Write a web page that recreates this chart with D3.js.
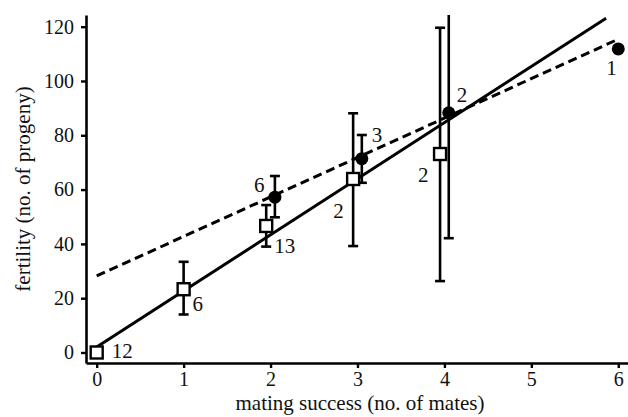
<!DOCTYPE html>
<html>
<head>
<meta charset="utf-8">
<script src="https://cdn.jsdelivr.net/npm/d3@7"></script>
<style>
  body { margin: 0; background: #fff; }
</style>
</head>
<body>
<div id="chart"></div>
<script>
// squares: open markers
var squareX  = [0, 1, 1.95, 2.95, 3.95];
var squareY  = [0, 23.3, 46.6, 63.9, 73.1];
var squareLo = [0, 14.0, 39.0, 39.2, 26.3];
var squareHi = [0, 33.4, 54.3, 88.1, 119.6];
var squareN  = ["12", "6", "13", "2", "2"];

// circles: filled markers
var circleX  = [2.05, 3.05, 4.05, 6];
var circleY  = [57.2, 71.4, 88.3, 111.8];
var circleLo = [49.8, 62.5, 42.1, 111.8];
var circleHi = [65.0, 80.1, 134.5, 111.8];
var circleN  = ["6", "3", "2", "1"];

// fitted lines (end points)
var solidLine  = [[0, 2.0], [5.86, 123.1]];
var dashedLine = [[0, 28.2], [5.98, 115.1]];

var xTicks = [0, 1, 2, 3, 4, 5, 6];
var yTicks = [0, 20, 40, 60, 80, 100, 120];

// where the n labels sit relative to their marker (pixels)
var squareLabelOff = [[15, 6], [9, 22], [8, 27], [-20, 39], [-22, 28]];
var circleLabelOff = [[-21, -5], [10, -17], [8, -11], [-12, 26]];

var width = 628, height = 417;
var serif = '"Liberation Serif", "DejaVu Serif", "Noto Serif", "Times New Roman", Times, serif';
var x = d3.scaleLinear().domain([-0.123, 6.112]).range([86, 628]);
var y = d3.scaleLinear().domain([-3.87, 124.3]).range([363, 15]);

var svg = d3.select('#chart').append('svg')
    .attr('width', width)
    .attr('height', height);

svg.append('defs').append('clipPath').attr('id', 'plot')
  .append('rect').attr('x', 86).attr('y', 15).attr('width', 542).attr('height', 348);

// axes
var yAxis = svg.append('g')
    .attr('transform', 'translate(86,0)')
    .call(d3.axisLeft(y).tickValues(yTicks).tickFormat(d3.format('d'))
        .tickSize(5).tickSizeOuter(0).tickPadding(7));
var xAxis = svg.append('g')
    .attr('transform', 'translate(0,363)')
    .call(d3.axisBottom(x).tickValues(xTicks).tickFormat(d3.format('d'))
        .tickSize(5).tickSizeOuter(0).tickPadding(4));

[xAxis, yAxis].forEach(function(g) {
    g.attr('font-family', serif).attr('font-size', 20);
    g.select('.domain').attr('stroke', '#000').attr('stroke-width', 2.6);
    g.selectAll('.tick line').attr('stroke', '#000').attr('stroke-width', 2.4);
    g.selectAll('.tick text').attr('fill', '#111');
});

svg.append('text')
    .attr('x', 360).attr('y', 410)
    .attr('text-anchor', 'middle')
    .attr('font-family', serif)
    .attr('font-size', 21)
    .attr('fill', '#111')
    .text('mating success (no. of mates)');

svg.append('text')
    .attr('transform', 'translate(30,189) rotate(-90)')
    .attr('text-anchor', 'middle')
    .attr('font-family', serif)
    .attr('font-size', 21)
    .attr('fill', '#111')
    .text('fertility (no. of progeny)');

var plot = svg.append('g').attr('clip-path', 'url(#plot)');

var line = d3.line()
    .x(function(d) { return x(d[0]); })
    .y(function(d) { return y(d[1]); });

plot.append('path').datum(dashedLine)
    .attr('d', line)
    .attr('fill', 'none').attr('stroke', '#000')
    .attr('stroke-width', 3).attr('stroke-dasharray', '9,5');

plot.append('path').datum(solidLine)
    .attr('d', line)
    .attr('fill', 'none').attr('stroke', '#000')
    .attr('stroke-width', 3);

function errorBars(xs, lo, hi) {
    var g = plot.append('g').attr('stroke', '#000').attr('stroke-width', 2.6);
    xs.forEach(function(xv, i) {
        if (hi[i] === lo[i]) { return; }
        var cx = x(xv);
        g.append('line').attr('x1', cx).attr('x2', cx).attr('y1', y(lo[i])).attr('y2', y(hi[i]));
        [lo[i], hi[i]].forEach(function(v) {
            g.append('line').attr('x1', cx - 5).attr('x2', cx + 5).attr('y1', y(v)).attr('y2', y(v));
        });
    });
}
errorBars(squareX, squareLo, squareHi);
errorBars(circleX, circleLo, circleHi);

// markers
plot.selectAll('rect.sq').data(squareX).enter().append('rect')
    .attr('class', 'sq')
    .attr('x', function(d) { return x(d) - 6; })
    .attr('y', function(d, i) { return y(squareY[i]) - 6; })
    .attr('width', 12).attr('height', 12)
    .attr('fill', '#fff').attr('stroke', '#000').attr('stroke-width', 2.4);

plot.selectAll('circle.ci').data(circleX).enter().append('circle')
    .attr('class', 'ci')
    .attr('cx', function(d) { return x(d); })
    .attr('cy', function(d, i) { return y(circleY[i]); })
    .attr('r', 6.5)
    .attr('fill', '#000');

// n labels
svg.selectAll('text.sqn').data(squareN).enter().append('text')
    .attr('class', 'sqn')
    .attr('x', function(d, i) { return x(squareX[i]) + squareLabelOff[i][0]; })
    .attr('y', function(d, i) { return y(squareY[i]) + squareLabelOff[i][1]; })
    .attr('font-family', serif)
    .attr('font-size', 21)
    .attr('fill', '#111')
    .text(function(d) { return d; });

svg.selectAll('text.cin').data(circleN).enter().append('text')
    .attr('class', 'cin')
    .attr('x', function(d, i) { return x(circleX[i]) + circleLabelOff[i][0]; })
    .attr('y', function(d, i) { return y(circleY[i]) + circleLabelOff[i][1]; })
    .attr('font-family', serif)
    .attr('font-size', 21)
    .attr('fill', '#111')
    .text(function(d) { return d; });
</script>
</body>
</html>
